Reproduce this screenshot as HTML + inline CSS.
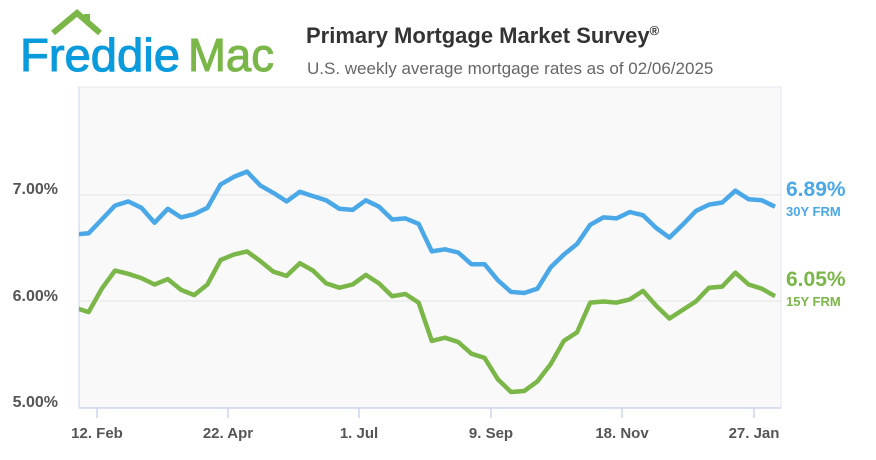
<!DOCTYPE html>
<html><head><meta charset="utf-8"><style>
html,body{margin:0;padding:0;background:#fff;width:876px;height:460px;overflow:hidden;font-family:"Liberation Sans",sans-serif}
</style></head><body>
<svg id="s" width="876" height="460" xmlns="http://www.w3.org/2000/svg">
<polyline points="53,33 77,13 100,33" fill="none" stroke="#7ab648" stroke-width="6" stroke-linejoin="miter"/>
<rect x="84" y="14" width="6" height="9" fill="#7ab648"/>
<text x="20" y="71" font-size="46" fill="#0a9bdc" textLength="160" lengthAdjust="spacingAndGlyphs" stroke="#0a9bdc" stroke-width="1">Freddie</text>
<text x="188" y="71" font-size="46" fill="#7ab648" textLength="86" lengthAdjust="spacingAndGlyphs" stroke="#7ab648" stroke-width="1">Mac</text>
<text x="306" y="43" font-size="22" font-weight="bold" fill="#333">Primary Mortgage Market Survey<tspan font-size="13" dy="-8">®</tspan></text>
<text x="307" y="74" font-size="17" fill="#666">U.S. weekly average mortgage rates as of 02/06/2025</text>
<rect x="79" y="87" width="702" height="321" fill="#f9f9fa" stroke="#e4e6ee" stroke-width="1"/>
<line x1="79" y1="195" x2="781" y2="195" stroke="#e2e2e2" stroke-width="1"/>
<line x1="79" y1="301" x2="781" y2="301" stroke="#e2e2e2" stroke-width="1"/>
<line x1="79" y1="87" x2="79" y2="408" stroke="#cdd5ec" stroke-width="1"/>
<line x1="79" y1="408" x2="781" y2="408" stroke="#cdd5ec" stroke-width="1.5"/>
<g font-size="16" font-weight="bold" fill="#555" text-anchor="end">
<text x="58" y="194">7.00%</text><text x="58" y="301">6.00%</text><text x="58" y="407">5.00%</text>
</g>
<g id="ticks" stroke="#cdd5ec" stroke-width="1.5"></g>
<g id="tl" font-size="15" font-weight="bold" fill="#555" text-anchor="middle"></g>
<defs><clipPath id="c"><rect x="79" y="80" width="705" height="340"/></clipPath></defs>
<g clip-path="url(#c)">
<polyline id="p30" fill="none" stroke="#4aa8e8" stroke-width="4.5" stroke-linejoin="round"/>
<polyline id="p15" fill="none" stroke="#7ab648" stroke-width="4.5" stroke-linejoin="round"/>
</g>
<text x="786" y="196" font-size="21" font-weight="bold" fill="#4aa8e8">6.89%</text>
<text x="786" y="216" font-size="13" font-weight="bold" fill="#4aa8e8">30Y FRM</text>
<text x="786" y="286" font-size="21" font-weight="bold" fill="#7ab648">6.05%</text>
<text x="786" y="306" font-size="13" font-weight="bold" fill="#7ab648">15Y FRM</text>
</svg>
<script>
var a=[6.63,6.64,6.77,6.90,6.94,6.88,6.74,6.87,6.79,6.82,6.88,7.10,7.17,7.22,7.09,7.02,6.94,7.03,6.99,6.95,6.87,6.86,6.95,6.89,6.77,6.78,6.73,6.47,6.49,6.46,6.35,6.35,6.20,6.09,6.08,6.12,6.32,6.44,6.54,6.72,6.79,6.78,6.84,6.81,6.69,6.60,6.72,6.85,6.91,6.93,7.04,6.96,6.95,6.89];
var b=[5.94,5.90,6.12,6.29,6.26,6.22,6.16,6.21,6.11,6.06,6.16,6.39,6.44,6.47,6.38,6.28,6.24,6.36,6.29,6.17,6.13,6.16,6.25,6.17,6.05,6.07,5.99,5.63,5.66,5.62,5.51,5.47,5.27,5.15,5.16,5.25,5.41,5.63,5.71,5.99,6.00,5.99,6.02,6.10,5.96,5.84,5.92,6.00,6.13,6.14,6.27,6.16,6.12,6.05];
function pts(d){return d.map(function(v,i){return (775-(53-i)*13.2).toFixed(1)+","+(408-(v-5)*106.5).toFixed(1)}).join(" ")}
document.getElementById("p30").setAttribute("points",pts(a));
document.getElementById("p15").setAttribute("points",pts(b));
var t=[[97,"12. Feb"],[228,"22. Apr"],[359,"1. Jul"],[491,"9. Sep"],[622,"18. Nov"],[754,"27. Jan"]];
var ns="http://www.w3.org/2000/svg",g=document.getElementById("ticks"),g2=document.getElementById("tl");
t.forEach(function(k){var l=document.createElementNS(ns,"line");l.setAttribute("x1",k[0]);l.setAttribute("x2",k[0]);l.setAttribute("y1",408);l.setAttribute("y2",418);g.appendChild(l);
var x=document.createElementNS(ns,"text");x.setAttribute("x",k[0]);x.setAttribute("y",438);x.textContent=k[1];g2.appendChild(x);});
</script>
</body></html>
